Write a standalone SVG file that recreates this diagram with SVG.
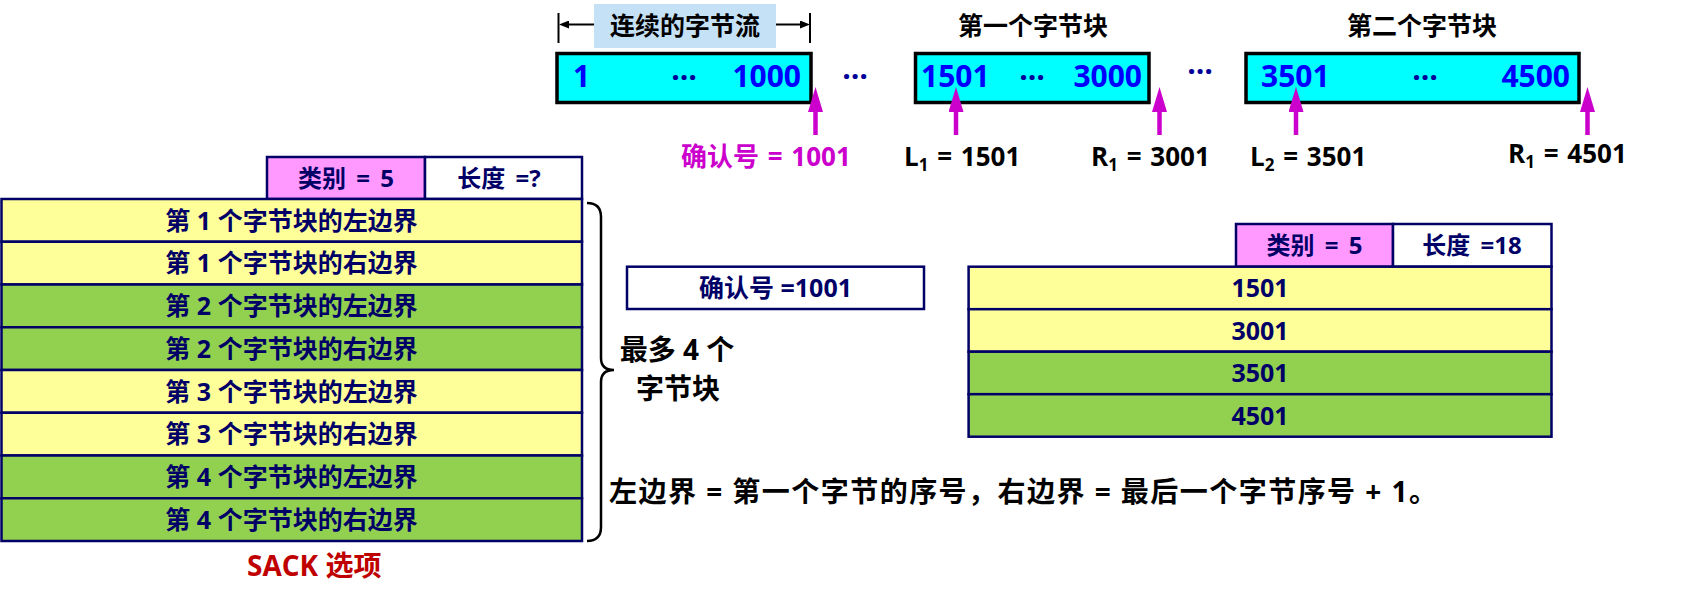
<svg xmlns="http://www.w3.org/2000/svg" width="1694" height="601" viewBox="0 0 1694 601">
<style>
text{font-family:"Open Sans","Noto Sans CJK SC",sans-serif;font-weight:bold}
.num{font-size:30px;fill:#0000FF}
.dots{font-size:30px;fill:#000099;text-anchor:middle}
.stream{fill:#00FFFF;stroke:#000;stroke-width:3.5}
.lbl{font-size:26px;fill:#000;word-spacing:2px}
.sub{font-size:17px}
.hdr{font-size:25px;fill:#000;text-anchor:middle}
.cell{stroke:#000066;stroke-width:2.5}
.y{fill:#FFFF99}
.g{fill:#92D050}
.p{fill:#FF99FF}
.w{fill:#FFFFFF}
.ct{font-size:25px;fill:#000066;text-anchor:middle}
.ht{font-size:24px;fill:#000066;text-anchor:middle;word-spacing:4px}
.mag{stroke:#CC00CC;stroke-width:4.5;fill:none}
</style>
<defs>
<marker id="mh" viewBox="0 0 25 15" markerWidth="25" markerHeight="15" refX="0" refY="7.5" orient="auto" markerUnits="userSpaceOnUse">
<path d="M0,0 L25,7.5 L0,15 z" fill="#CC00CC"/>
</marker>
<marker id="bh" viewBox="0 0 10 8" markerWidth="10" markerHeight="8" refX="0" refY="4" orient="auto" markerUnits="userSpaceOnUse">
<path d="M0,0 L10,4 L0,8 z" fill="#000"/>
</marker>
</defs>

<g id="stream-label">
<rect x="594" y="4" width="182" height="44" fill="#C5E1F5"/>
<text class="hdr" x="685" y="35">连续的字节流</text>
</g>
<g id="block-labels">
<text class="hdr" x="1033" y="35">第一个字节块</text>
<text class="hdr" x="1422" y="35">第二个字节块</text>
</g>

<g id="stream-box-1">
<rect class="stream" x="557" y="53.5" width="254" height="49"/>
<text class="num" x="573" y="87">1</text>
<text class="dots" x="684" y="80">…</text>
<text class="num" x="801" y="87" text-anchor="end">1000</text>
</g>
<g id="stream-box-2">
<rect class="stream" x="915.5" y="53.5" width="233.5" height="49"/>
<text class="num" x="921" y="87">1501</text>
<text class="dots" x="1032" y="80">…</text>
<text class="num" x="1142" y="87" text-anchor="end">3000</text>
</g>
<g id="stream-box-3">
<rect class="stream" x="1246" y="53.5" width="333" height="49"/>
<text class="num" x="1261" y="87">3501</text>
<text class="dots" x="1425" y="80">…</text>
<text class="num" x="1570" y="87" text-anchor="end">4500</text>
</g>
<g id="gaps">
<text class="dots" x="855" y="79">…</text>
<text class="dots" x="1200" y="74">…</text>
</g>

<g id="connectors">
<line x1="558.5" y1="13" x2="558.5" y2="43" stroke="#000" stroke-width="2"/>
<line x1="810" y1="13" x2="810" y2="43" stroke="#000" stroke-width="2"/>
<line x1="594" y1="24.5" x2="569" y2="24.5" stroke="#000" stroke-width="2" marker-end="url(#bh)"/>
<line x1="776" y1="24.5" x2="800" y2="24.5" stroke="#000" stroke-width="2" marker-end="url(#bh)"/>
<line class="mag" x1="815.5" y1="135" x2="815.5" y2="112" marker-end="url(#mh)"/>
<line class="mag" x1="956" y1="135" x2="956" y2="112" marker-end="url(#mh)"/>
<line class="mag" x1="1159.5" y1="135" x2="1159.5" y2="112" marker-end="url(#mh)"/>
<line class="mag" x1="1296" y1="135" x2="1296" y2="112" marker-end="url(#mh)"/>
<line class="mag" x1="1587.5" y1="135" x2="1587.5" y2="112" marker-end="url(#mh)"/>
<path d="M587,203 Q601,203 601,217 L601,358 Q601,370 614,370 Q601,370 601,382 L601,527 Q601,541 587,541" fill="none" stroke="#000" stroke-width="2.5"/>
</g>

<g id="pointer-labels">
<text class="lbl" x="681" y="166" style="fill:#CC00CC">确认号 = 1001</text>
<text class="lbl" x="904" y="166">L<tspan class="sub" dy="5">1</tspan><tspan dy="-5"> = 1501</tspan></text>
<text class="lbl" x="1091" y="166">R<tspan class="sub" dy="5">1</tspan><tspan dy="-5"> = 3001</tspan></text>
<text class="lbl" x="1250" y="166">L<tspan class="sub" dy="5">2</tspan><tspan dy="-5"> = 3501</tspan></text>
<text class="lbl" x="1508" y="163">R<tspan class="sub" dy="5">1</tspan><tspan dy="-5"> = 4501</tspan></text>
</g>

<g id="sack-option">
<rect class="cell p" x="267" y="157" width="158" height="42"/>
<rect class="cell w" x="425" y="157" width="157" height="42"/>
<text class="ht" x="346" y="187">类别 = 5</text>
<text class="ht" x="499" y="187">长度 =?</text>
<rect class="cell y" x="1.5" y="199" width="580.5" height="42.75"/>
<rect class="cell y" x="1.5" y="241.75" width="580.5" height="42.75"/>
<rect class="cell g" x="1.5" y="284.5" width="580.5" height="42.75"/>
<rect class="cell g" x="1.5" y="327.25" width="580.5" height="42.75"/>
<rect class="cell y" x="1.5" y="370" width="580.5" height="42.75"/>
<rect class="cell y" x="1.5" y="412.75" width="580.5" height="42.75"/>
<rect class="cell g" x="1.5" y="455.5" width="580.5" height="42.75"/>
<rect class="cell g" x="1.5" y="498.25" width="580.5" height="42.75"/>
<text class="ct" x="291.5" y="229.5">第 1 个字节块的左边界</text>
<text class="ct" x="291.5" y="272.25">第 1 个字节块的右边界</text>
<text class="ct" x="291.5" y="315">第 2 个字节块的左边界</text>
<text class="ct" x="291.5" y="357.75">第 2 个字节块的右边界</text>
<text class="ct" x="291.5" y="400.5">第 3 个字节块的左边界</text>
<text class="ct" x="291.5" y="443.25">第 3 个字节块的右边界</text>
<text class="ct" x="291.5" y="486">第 4 个字节块的左边界</text>
<text class="ct" x="291.5" y="528.75">第 4 个字节块的右边界</text>
<text x="247" y="576" style="font-size:28px;fill:#C00000">SACK 选项</text>
</g>

<g id="brace-label">
<text class="hdr" style="font-size:28px"><tspan x="677" y="360">最多 4 个</tspan><tspan x="678" y="399">字节块</tspan></text>
</g>

<g id="ack-box">
<rect class="cell w" x="627" y="266.7" width="297" height="42.3"/>
<text class="ct" x="775.5" y="297">确认号 =1001</text>
</g>

<g id="sack-example">
<rect class="cell p" x="1236" y="224" width="157" height="42.7"/>
<rect class="cell w" x="1393" y="224" width="158.5" height="42.7"/>
<text class="ht" x="1314.5" y="254">类别 = 5</text>
<text class="ht" x="1472" y="254">长度 =18</text>
<rect class="cell y" x="968.6" y="266.7" width="582.9" height="42.5"/>
<rect class="cell y" x="968.6" y="309.2" width="582.9" height="42.5"/>
<rect class="cell g" x="968.6" y="351.7" width="582.9" height="42.5"/>
<rect class="cell g" x="968.6" y="394.2" width="582.9" height="42.5"/>
<text class="ct" x="1260" y="297">1501</text>
<text class="ct" x="1260" y="339.5">3001</text>
<text class="ct" x="1260" y="382">3501</text>
<text class="ct" x="1260" y="424.5">4501</text>
</g>

<g id="note">
<text x="609" y="502" style="font-size:28px;fill:#000" textLength="828" lengthAdjust="spacing">左边界 = 第一个字节的序号，右边界 = 最后一个字节序号 + 1。</text>
</g>
</svg>
